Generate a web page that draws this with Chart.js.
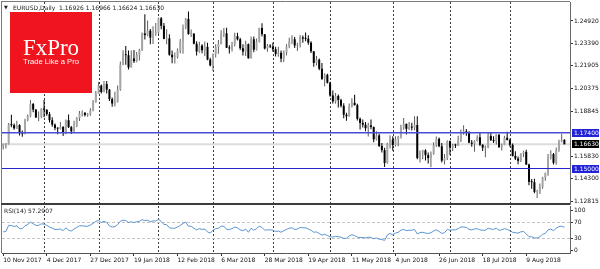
<!DOCTYPE html>
<html>
<head>
<meta charset="utf-8">
<title>EURUSD Daily</title>
<script src="https://cdn.jsdelivr.net/npm/chart.js@4.4.1/dist/chart.umd.min.js"></script>
<style>
  html, body { margin:0; padding:0; background:#fff; }
  #wrap { position:relative; width:600px; height:269px; overflow:hidden; background:#fff; }
  canvas { position:absolute; left:0; display:block; }
  #main { top:0; }
  #rsiC { top:205px; }
  .txt { position:absolute; font-family:'DejaVu Sans', sans-serif; color:#1a1a1a; white-space:pre; }
  #hdr { left:13px; top:4px; font-size:6px; line-height:7px; }
  #tri { left:4px; top:4px; font-size:5px; line-height:7px; }
  #rsiLbl { left:4px; top:207px; font-size:6px; line-height:7px; }
  #logo { position:absolute; left:10px; top:12px; width:82px; height:81px; background:#f0141e; }
  #logo .big { position:absolute; left:0; width:82px; top:23.75px; text-align:center; font-family:'Liberation Serif', serif; font-size:23px; line-height:23px; color:#fff; }
  #logo .small { position:absolute; left:0; width:82px; top:46.4px; text-align:center; font-family:'Liberation Sans', sans-serif; font-size:7.6px; line-height:8px; color:#fff; }
</style>
</head>
<body>
<div id="wrap">
  <canvas id="main" width="600" height="205"></canvas>
  <canvas id="rsiC" width="600" height="64"></canvas>
  <div class="txt" id="tri">▼</div>
  <div class="txt" id="hdr">EURUSD,Daily  1.16926 1.16966 1.16624 1.16630</div>
  <div class="txt" id="rsiLbl">RSI(14) 57.2907</div>
  <div id="logo"><div class="big">FxPro</div><div class="small">Trade Like a Pro</div></div>
</div>
<script>
// ---------------- DATA ----------------
const opens = [
1.1651,1.1664,1.1665,1.1795,1.1792,1.1770,1.1792,1.1737,1.1735,1.1824,
1.1852,1.1934,1.1896,1.1843,1.1846,1.1904,1.1895,1.1866,1.1825,1.1795,
1.1772,1.1768,1.1780,1.1740,1.1825,1.1778,1.1750,1.1785,1.1840,1.1870,
1.1874,1.1860,1.1865,1.1890,1.1945,1.2005,1.2058,1.2015,1.2068,1.2030,
1.1967,1.1937,1.1946,1.2031,1.2198,1.2264,1.2262,1.2180,1.2240,1.2222,
1.2262,1.2298,1.2408,1.2397,1.2427,1.2380,1.2410,1.2414,1.2510,1.2459,
1.2372,1.2375,1.2265,1.2248,1.2250,1.2294,1.2355,1.2450,1.2506,1.2405,
1.2406,1.2339,1.2287,1.2327,1.2295,1.2318,1.2232,1.2193,1.2269,1.2317,
1.2336,1.2406,1.2409,1.2312,1.2307,1.2336,1.2390,1.2369,1.2309,1.2286,
1.2336,1.2241,1.2369,1.2299,1.2353,1.2445,1.2403,1.2307,1.2324,1.2320,
1.2302,1.2270,1.2278,1.2239,1.2280,1.2319,1.2355,1.2369,1.2327,1.2330,
1.2382,1.2374,1.2372,1.2346,1.2288,1.2210,1.2232,1.2171,1.2103,1.2130,
1.2077,1.1992,1.1951,1.1988,1.1960,1.1922,1.1862,1.1851,1.1916,1.1942,
1.1926,1.1834,1.1807,1.1795,1.1771,1.1790,1.1779,1.1696,1.1723,1.1652,
1.1624,1.1537,1.1664,1.1694,1.1658,1.1696,1.1714,1.1775,1.1800,1.1767,
1.1780,1.1775,1.1793,1.1570,1.1608,1.1622,1.1590,1.1570,1.1600,1.1655,
1.1700,1.1650,1.1553,1.1570,1.1684,1.1641,1.1656,1.1655,1.1688,1.1745,
1.1748,1.1743,1.1674,1.1667,1.1684,1.1710,1.1660,1.1640,1.1643,1.1719,
1.1691,1.1684,1.1727,1.1643,1.1658,1.1707,1.1691,1.1659,1.1584,1.1567,
1.1552,1.1600,1.1612,1.1527,1.1410,1.1408,1.1343,1.1345,1.1377,1.1438,
1.1467,1.1572,1.1597,1.1538,1.1624,1.1681,1.16926
];
const highs = [
1.1669,1.1672,1.1806,1.1861,1.1802,1.1821,1.1797,1.1755,1.1834,1.1863,
1.1961,1.1940,1.1900,1.1883,1.1905,1.1960,1.1899,1.1880,1.1845,1.1803,
1.1777,1.1812,1.1785,1.1829,1.1863,1.1786,1.1822,1.1847,1.1887,1.1890,
1.1880,1.1873,1.1905,1.1960,1.2022,1.2081,1.2065,1.2089,1.2089,1.2035,
1.1978,1.2016,1.2058,1.2219,1.2296,1.2323,1.2294,1.2293,1.2297,1.2283,
1.2306,1.2415,1.2537,1.2495,1.2438,1.2456,1.2478,1.2516,1.2519,1.2478,
1.2436,1.2403,1.2293,1.2280,1.2307,1.2371,1.2469,1.2512,1.2555,1.2434,
1.2412,1.2355,1.2352,1.2336,1.2354,1.2345,1.2244,1.2273,1.2336,1.2365,
1.2429,1.2445,1.2446,1.2329,1.2353,1.2413,1.2413,1.2380,1.2336,1.2359,
1.2340,1.2388,1.2388,1.2375,1.2446,1.2476,1.2404,1.2338,1.2335,1.2345,
1.2319,1.2318,1.2293,1.2293,1.2335,1.2379,1.2396,1.2384,1.2346,1.2397,
1.2395,1.2414,1.2396,1.2355,1.2290,1.2256,1.2239,1.2209,1.2141,1.2137,
1.2084,1.2025,1.2008,1.1997,1.1969,1.1939,1.1875,1.1937,1.1973,1.1996,
1.1935,1.1843,1.1830,1.1812,1.1807,1.1830,1.1782,1.1750,1.1735,1.1671,
1.1640,1.1674,1.1724,1.1717,1.1717,1.1720,1.1795,1.1840,1.1803,1.1813,
1.1808,1.1852,1.1852,1.1621,1.1626,1.1629,1.1608,1.1615,1.1676,1.1715,
1.1708,1.1672,1.1598,1.1690,1.1689,1.1667,1.1667,1.1720,1.1763,1.1791,
1.1766,1.1751,1.1691,1.1690,1.1723,1.1745,1.1663,1.1655,1.1746,1.1738,
1.1717,1.1730,1.1730,1.1669,1.1720,1.1747,1.1700,1.1668,1.1616,1.1580,
1.1603,1.1620,1.1626,1.1532,1.1430,1.1432,1.1357,1.1399,1.1444,1.1474,
1.1597,1.1623,1.1604,1.1641,1.1694,1.1733,1.16966
];
const lows = [
1.1628,1.1635,1.1661,1.1778,1.1761,1.1765,1.1722,1.1713,1.1730,1.1818,
1.1845,1.1878,1.1841,1.1818,1.1838,1.1845,1.1854,1.1810,1.1780,1.1757,
1.1730,1.1763,1.1718,1.1730,1.1773,1.1732,1.1742,1.1777,1.1820,1.1850,
1.1849,1.1848,1.1855,1.1885,1.1943,1.2005,1.2004,1.2012,1.2004,1.1954,
1.1915,1.1917,1.1944,1.2023,1.2195,1.2197,1.2165,1.2180,1.2210,1.2215,
1.2226,1.2291,1.2367,1.2390,1.2336,1.2337,1.2393,1.2405,1.2436,1.2370,
1.2336,1.2258,1.2208,1.2206,1.2239,1.2275,1.2272,1.2436,1.2400,1.2384,
1.2335,1.2260,1.2278,1.2275,1.2256,1.2228,1.2188,1.2155,1.2246,1.2272,
1.2335,1.2385,1.2310,1.2273,1.2287,1.2321,1.2361,1.2297,1.2260,1.2256,
1.2240,1.2239,1.2281,1.2294,1.2348,1.2387,1.2300,1.2285,1.2310,1.2286,
1.2254,1.2251,1.2215,1.2216,1.2260,1.2309,1.2337,1.2310,1.2290,1.2313,
1.2346,1.2356,1.2333,1.2276,1.2184,1.2193,1.2160,1.2096,1.2054,1.2071,
1.1983,1.1938,1.1938,1.1910,1.1910,1.1838,1.1821,1.1849,1.1911,1.1923,
1.1823,1.1762,1.1776,1.1750,1.1716,1.1764,1.1677,1.1689,1.1645,1.1608,
1.1510,1.1532,1.1634,1.1619,1.1648,1.1650,1.1702,1.1760,1.1728,1.1759,
1.1756,1.1758,1.1563,1.1540,1.1563,1.1554,1.1533,1.1508,1.1593,1.1645,
1.1643,1.1540,1.1527,1.1558,1.1591,1.1617,1.1638,1.1652,1.1678,1.1727,
1.1720,1.1670,1.1646,1.1613,1.1681,1.1651,1.1617,1.1575,1.1636,1.1685,
1.1672,1.1662,1.1640,1.1621,1.1657,1.1690,1.1647,1.1580,1.1557,1.1529,
1.1543,1.1578,1.1524,1.1387,1.1364,1.1333,1.1301,1.1329,1.1364,1.1417,
1.1452,1.1561,1.1527,1.1525,1.1612,1.1677,1.16624
];
const closes = [
1.1664,1.1665,1.1795,1.1792,1.1770,1.1792,1.1737,1.1735,1.1824,1.1852,
1.1934,1.1896,1.1843,1.1846,1.1904,1.1895,1.1866,1.1825,1.1795,1.1772,
1.1768,1.1780,1.1740,1.1825,1.1778,1.1750,1.1785,1.1840,1.1870,1.1874,
1.1860,1.1865,1.1890,1.1945,1.2005,1.2058,1.2015,1.2068,1.2030,1.1967,
1.1937,1.1946,1.2031,1.2198,1.2264,1.2262,1.2180,1.2240,1.2222,1.2262,
1.2298,1.2408,1.2397,1.2427,1.2380,1.2410,1.2414,1.2510,1.2459,1.2372,
1.2375,1.2265,1.2248,1.2250,1.2294,1.2355,1.2450,1.2506,1.2405,1.2406,
1.2339,1.2287,1.2327,1.2295,1.2318,1.2232,1.2193,1.2269,1.2317,1.2336,
1.2406,1.2409,1.2312,1.2307,1.2336,1.2390,1.2369,1.2309,1.2286,1.2336,
1.2241,1.2369,1.2299,1.2353,1.2445,1.2403,1.2307,1.2324,1.2320,1.2302,
1.2270,1.2278,1.2239,1.2280,1.2319,1.2355,1.2369,1.2327,1.2330,1.2382,
1.2374,1.2372,1.2346,1.2288,1.2210,1.2232,1.2171,1.2103,1.2130,1.2077,
1.1992,1.1951,1.1988,1.1960,1.1922,1.1862,1.1851,1.1916,1.1942,1.1926,
1.1834,1.1807,1.1795,1.1771,1.1790,1.1779,1.1696,1.1723,1.1652,1.1624,
1.1537,1.1664,1.1694,1.1658,1.1696,1.1714,1.1775,1.1800,1.1767,1.1780,
1.1775,1.1793,1.1570,1.1608,1.1622,1.1590,1.1570,1.1600,1.1655,1.1700,
1.1650,1.1553,1.1570,1.1684,1.1641,1.1656,1.1655,1.1688,1.1745,1.1748,
1.1743,1.1674,1.1667,1.1684,1.1710,1.1660,1.1640,1.1643,1.1719,1.1691,
1.1684,1.1727,1.1643,1.1658,1.1707,1.1691,1.1659,1.1584,1.1567,1.1552,
1.1600,1.1612,1.1527,1.1410,1.1408,1.1343,1.1345,1.1377,1.1438,1.1467,
1.1572,1.1597,1.1538,1.1624,1.1681,1.1693,1.16630
];
const rsiValues = [
46,47,62,62,59,61,54,54,61,64,
70,66,62,62,66,65,62,58,55,52,
52,53,49,56,50,48,53,57,61,61,
60,60,63,67,72,74,69,72,69,61,
58,59,64,72,75,74,69,71,69,71,
72,76,74,75,71,73,73,77,72,64,
64,56,55,55,58,62,67,70,60,60,
55,51,54,52,53,46,43,50,54,55,
60,60,52,52,54,58,56,51,49,53,
45,55,50,54,60,57,50,51,51,50,
47,48,45,49,52,55,56,52,53,57,
56,56,53,50,45,46,42,38,40,37,
34,33,35,34,33,30,30,36,39,37,
33,32,32,31,33,32,29,31,28,27,
25,38,42,39,43,45,50,52,49,50,
50,52,41,44,45,43,42,44,48,51,
47,42,44,52,50,51,51,54,58,58,
57,52,51,53,54,51,50,50,55,53,
52,55,50,51,54,52,49,45,44,43,
46,47,41,34,34,31,31,34,40,42,
51,53,49,55,59,60,57.29
];
const xTickLabels = ['10 Nov 2017','4 Dec 2017','27 Dec 2017','19 Jan 2018','12 Feb 2018','6 Mar 2018',
  '28 Mar 2018','19 Apr 2018','11 May 2018','4 Jun 2018','26 Jun 2018','18 Jul 2018','9 Aug 2018'];
const priceTicks = [1.24920, 1.23390, 1.21905, 1.20375, 1.18845, 1.15830, 1.14300, 1.12815];
const priceLevels = [1.17400, 1.15000];
const lastPrice = 1.16630;
const rsiTicks = [100, 70, 30, 0];
const rsiLevels = [70, 30];

// ---------------- CATEGORIES (trading days) ----------------
const MONTHS = ['Jan','Feb','Mar','Apr','May','Jun','Jul','Aug','Sep','Oct','Nov','Dec'];
const holidays = ['2017-12-25', '2018-01-01'];
const dates = [], monthOf = [];
for (let t = Date.UTC(2017, 10, 10); t <= Date.UTC(2018, 7, 29); t += 86400000) {
  const d = new Date(t), wd = d.getUTCDay(), iso = d.toISOString().slice(0, 10);
  if (wd === 0 || wd === 6 || holidays.includes(iso)) continue;
  dates.push(d.getUTCDate() + ' ' + MONTHS[d.getUTCMonth()] + ' ' + d.getUTCFullYear());
  monthOf.push(d.getUTCMonth());
}
const monthStartIdx = [];
for (let i = 1; i < dates.length; i++) if (monthOf[i] !== monthOf[i - 1]) monthStartIdx.push(i);
const labelIdx = xTickLabels.map(l => dates.indexOf(l));

// ---------------- LAYOUT CONSTANTS ----------------
const X_MIN = -0.44, X_MAX = 208.06;
const Y_MIN = 1.12681, Y_MAX = 1.26197;
const R_MIN = -6.17, R_MAX = 109.88;
const AXIS_W = 30;
const FONT = { family: 'DejaVu Sans', size: 6 };

const isBull = i => closes[i] >= opens[i];

function drawMonthLines(chart) {
  const { ctx, chartArea: a, scales: { x } } = chart;
  ctx.save();
  ctx.strokeStyle = '#3a3a3a'; ctx.lineWidth = 1; ctx.setLineDash([2, 2]);
  monthStartIdx.forEach(i => {
    const px = Math.round(x.getPixelForValue(i)) + 0.5;
    ctx.beginPath(); ctx.moveTo(px, a.top); ctx.lineTo(px, a.bottom); ctx.stroke();
  });
  ctx.restore();
}

const mainDecor = {
  id: 'mainDecor',
  beforeDatasetsDraw(chart) {
    const { ctx, chartArea: a, scales: { y } } = chart;
    drawMonthLines(chart);
    const py = y.getPixelForValue(lastPrice);
    ctx.save();
    ctx.strokeStyle = '#dcdcdc'; ctx.lineWidth = 2;
    ctx.beginPath(); ctx.moveTo(a.left, py); ctx.lineTo(a.right, py); ctx.stroke();
    ctx.restore();
  },
  afterDatasetsDraw(chart) {
    const { ctx, chartArea: a, scales: { y } } = chart;
    ctx.save();
    priceLevels.forEach((v, k) => {
      const py = y.getPixelForValue(v);
      ctx.strokeStyle = k === 0 ? '#4a4ad8' : '#2424c8';
      ctx.lineWidth = k === 0 ? 1.5 : 1.2;
      ctx.beginPath(); ctx.moveTo(a.left, py); ctx.lineTo(a.right, py); ctx.stroke();
    });
    ctx.restore();
  },
  afterDraw(chart) {
    const { ctx, chartArea: a, scales: { y } } = chart;
    ctx.save();
    ctx.strokeStyle = '#7a7a7a'; ctx.lineWidth = 1;
    ctx.beginPath(); ctx.moveTo(1, 1.5); ctx.lineTo(a.right, 1.5); ctx.stroke();
    ctx.beginPath(); ctx.moveTo(1.5, 1); ctx.lineTo(1.5, 205); ctx.stroke();
    ctx.fillStyle = '#3c3c3c';
    ctx.fillRect(1, a.bottom, a.right - 0.5, 2);
    const tag = (v, bg) => {
      const py = y.getPixelForValue(v);
      ctx.fillStyle = bg;
      ctx.fillRect(a.right + 2, Math.round(py) - 4, 27, 8);
      ctx.fillStyle = '#fff';
      ctx.font = '6px "DejaVu Sans"';
      ctx.textAlign = 'left'; ctx.textBaseline = 'middle';
      ctx.fillText(v.toFixed(5), a.right + 4, Math.round(py) + 0.3);
    };
    tag(priceLevels[0], '#2222d8');
    tag(lastPrice, '#000000');
    tag(priceLevels[1], '#2222d8');
    ctx.restore();
  }
};

const rsiDecor = {
  id: 'rsiDecor',
  beforeDatasetsDraw(chart) {
    const { ctx, chartArea: a, scales: { y } } = chart;
    drawMonthLines(chart);
    ctx.save();
    ctx.strokeStyle = '#c4c4c4'; ctx.lineWidth = 1; ctx.setLineDash([3, 2]);
    rsiLevels.forEach(v => {
      const py = Math.round(y.getPixelForValue(v)) + 0.5;
      ctx.beginPath(); ctx.moveTo(a.left, py); ctx.lineTo(a.right, py); ctx.stroke();
    });
    ctx.restore();
  },
  afterDraw(chart) {
    const { ctx, chartArea: a } = chart;
    ctx.save();
    ctx.strokeStyle = '#7a7a7a'; ctx.lineWidth = 1;
    ctx.beginPath(); ctx.moveTo(1.5, 0); ctx.lineTo(1.5, a.bottom); ctx.stroke();
    ctx.restore();
  }
};

const zeroPad = s => { s.paddingLeft = 0; s.paddingRight = 0; s.paddingTop = 0; s.paddingBottom = 0; };

new Chart(document.getElementById('main'), {
  type: 'bar',
  data: {
    datasets: [
      {
        label: 'range',
        data: dates.map((_, i) => ({ x: i, y: [lows[i], highs[i]] })),
        backgroundColor: dates.map((_, i) => isBull(i) ? '#5e5e5e' : '#000000'),
        barThickness: 1, grouped: false, order: 2, inflateAmount: 0
      },
      {
        label: 'body',
        data: dates.map((_, i) => ({ x: i, y: [opens[i], closes[i]] })),
        backgroundColor: dates.map((_, i) => isBull(i) ? '#a6a6a6' : '#000000'),
        barThickness: 2, minBarLength: 1, grouped: false, order: 1, inflateAmount: 0
      }
    ]
  },
  options: {
    responsive: false, animation: false, devicePixelRatio: 1, events: [],
    layout: { padding: { left: 2, right: 0, top: 2, bottom: 2 } },
    plugins: { legend: { display: false }, tooltip: { enabled: false } },
    scales: {
      x: {
        type: 'linear', min: X_MIN, max: X_MAX, offset: false,
        afterBuildTicks: s => { s.ticks = monthStartIdx.map(v => ({ value: v })); },
        afterFit: s => { s.height = 0; zeroPad(s); },
        ticks: { display: false },
        grid: { display: false },
        border: { display: false }
      },
      y: {
        type: 'linear', position: 'right', min: Y_MIN, max: Y_MAX,
        afterBuildTicks: s => { s.ticks = priceTicks.map(v => ({ value: v })); },
        afterFit: s => { s.width = AXIS_W; zeroPad(s); },
        ticks: { autoSkip: false, font: FONT, color: '#111', padding: 1, callback: v => Number(v).toFixed(5) },
        grid: { drawOnChartArea: false, drawTicks: true, tickLength: 3, tickColor: '#333' },
        border: { color: '#6a6a6a', width: 1 }
      }
    }
  },
  plugins: [mainDecor]
});

new Chart(document.getElementById('rsiC'), {
  type: 'line',
  data: {
    datasets: [{
      label: 'RSI(14)',
      data: rsiValues.map((v, i) => ({ x: i, y: v })),
      borderColor: '#5b93d3', borderWidth: 1, pointRadius: 0, tension: 0, fill: false
    }]
  },
  options: {
    responsive: false, animation: false, devicePixelRatio: 1, events: [],
    layout: { padding: { left: 2, right: 0, top: 1, bottom: 0 } },
    plugins: { legend: { display: false }, tooltip: { enabled: false } },
    scales: {
      x: {
        type: 'linear', min: X_MIN, max: X_MAX, offset: false,
        afterBuildTicks: s => { s.ticks = labelIdx.map(v => ({ value: v })); },
        afterFit: s => { s.height = 16; zeroPad(s); },
        ticks: {
          autoSkip: false, maxTicksLimit: 100, maxRotation: 0, minRotation: 0, align: 'start', padding: 1,
          font: FONT, color: '#111',
          callback: v => { const k = labelIdx.indexOf(v); return k >= 0 ? xTickLabels[k] : ''; }
        },
        grid: { display: true, offset: false, drawOnChartArea: false, drawTicks: true, tickLength: 3, tickColor: '#333' },
        border: { color: '#555', width: 1 }
      },
      y: {
        type: 'linear', position: 'right', min: R_MIN, max: R_MAX,
        afterBuildTicks: s => { s.ticks = rsiTicks.map(v => ({ value: v })); },
        afterFit: s => { s.width = AXIS_W; zeroPad(s); },
        ticks: { autoSkip: false, font: FONT, color: '#111', padding: 1 },
        grid: { drawOnChartArea: false, drawTicks: true, tickLength: 3, tickColor: '#333' },
        border: { color: '#6a6a6a', width: 1 }
      }
    }
  },
  plugins: [rsiDecor]
});
</script>
</body>
</html>
